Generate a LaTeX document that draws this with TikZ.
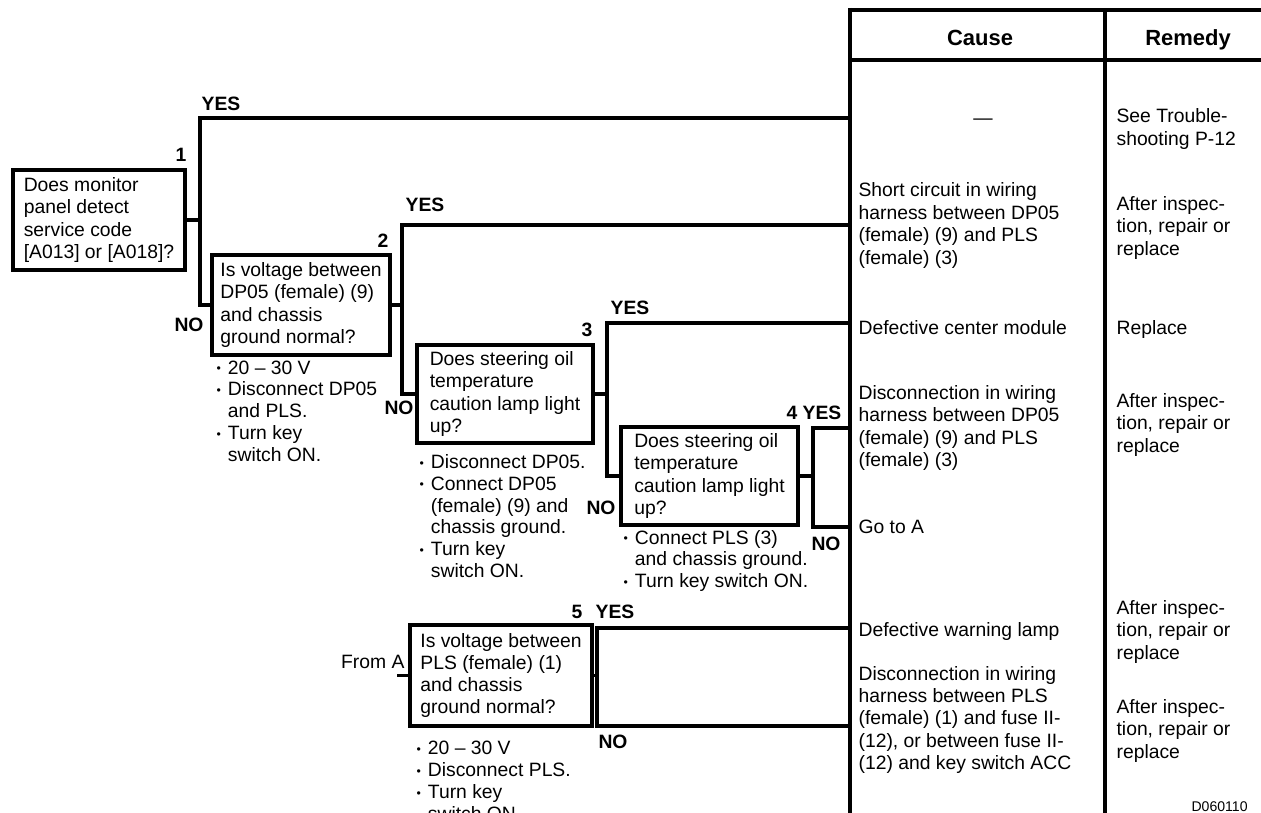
\documentclass[tikz,border=0pt]{standalone}
\usepackage{fontspec}
\setmainfont{Liberation Sans}
\newcommand{\itm}{\raisebox{0.7pt}{\fontsize{7}{7}\selectfont\textbullet}\hspace{4pt}}

\begin{document}
\begin{tikzpicture}[
  x=0.02cm, y=-0.02cm, line width=1.8pt,
  qbox/.style={draw, anchor=north west, align=left, inner sep=2pt, outer sep=0pt,
               font=\fontsize{11}{12.7}\selectfont},
  cell/.style={anchor=west, align=left, inner sep=0pt, font=\fontsize{11}{12.75}\selectfont},
  note/.style={anchor=west, align=left, inner sep=0pt, font=\fontsize{11}{12.4}\selectfont},
  tag/.style={inner sep=0pt, font=\bfseries\fontsize{11}{12}\selectfont},
  head/.style={inner sep=0pt, font=\bfseries\fontsize{12.5}{14}\selectfont},
]
  \useasboundingbox (0,0) rectangle (1261,813);

  % table frame
  \coordinate (tabtop) at (850,8);
  \coordinate (tabbot) at (850,813);
  \coordinate (coltop) at (1105,10);
  \coordinate (colbot) at (1105,813);
  \coordinate (tabne)  at (1261,10);
  \coordinate (headw)  at (850,60);
  \coordinate (heade)  at (1261,60);
  \draw (tabtop) -- (tabbot);
  \draw (tabtop |- tabne) -- (tabne);
  \draw (headw) -- (heade);
  \draw (coltop) -- (colbot);
  \node[head] (cause)  at (980,38)  {Cause};
  \node[head] (remedy) at (1188,40) {Remedy};

  % causes and remedies
  \node[cell, anchor=center] (c1) at (983,122) {—};
  \node[cell] (r1) at (1115,129) {See Trouble-\\shooting P-12};
  \node[cell] (c2) at (857,225.5) {Short circuit in wiring\\harness between DP05\\(female) (9) and PLS\\(female) (3)};
  \node[cell] (r2) at (1115,228) {After inspec-\\tion, repair or\\replace};
  \node[cell] (c3) at (857,328) {Defective center module};
  \node[cell] (r3) at (1115,330) {Replace};
  \node[cell] (c4) at (857,428) {Disconnection in wiring\\harness between DP05\\(female) (9) and PLS\\(female) (3)};
  \node[cell] (r4) at (1115,425) {After inspec-\\tion, repair or\\replace};
  \node[cell] (c5) at (857,527) {Go to A};
  \node[cell] (c6) at (857,632) {Defective warning lamp};
  \node[cell] (r6) at (1115,632) {After inspec-\\tion, repair or\\replace};
  \node[cell] (c7) at (857,720) {Disconnection in wiring\\harness between PLS\\(female) (1) and fuse II-\\(12), or between fuse II-\\(12) and key switch ACC};
  \node[cell] (r7) at (1115,731) {After inspec-\\tion, repair or\\replace};
  \node[cell, font=\fontsize{8}{9}\selectfont] (code) at (1190,807) {D060110};

  % question boxes
  \node[qbox, minimum width=3.44cm, minimum height=2cm] (q1) at (13,170)
    {Does monitor\\panel detect\\service code\\{[A013]} or [A018]?};
  \node[qbox, minimum width=3.56cm, minimum height=2cm] (q2) at (212,255)
    {Is voltage between\\DP05 (female) (9)\\and chassis\\ground normal?};
  \node[qbox, minimum width=3.52cm, minimum height=1.96cm] (q3) at (417,345)
    {Does steering oil\\temperature\\caution lamp light\\up?};
  \node[qbox, minimum width=3.54cm, minimum height=1.96cm] (q4) at (621,427)
    {Does steering oil\\temperature\\caution lamp light\\up?};
  \node[qbox, minimum width=3.64cm, minimum height=2.02cm] (q5) at (410,625)
    {Is voltage between\\PLS (female) (1)\\and chassis\\ground normal?};

  % check notes
  \node[note] (s2) at (215,411) {\itm 20 – 30 V\\\itm Disconnect DP05\\\phantom{\itm}and PLS.\\\itm Turn key\\\phantom{\itm}switch ON.};
  \node[note] (s3) at (418,516) {\itm Disconnect DP05.\\\itm Connect DP05\\\phantom{\itm}(female) (9) and\\\phantom{\itm}chassis ground.\\\itm Turn key\\\phantom{\itm}switch ON.};
  \node[note] (s4) at (622,561) {\itm Connect PLS (3)\\\phantom{\itm}and chassis ground.\\\itm Turn key switch ON.};
  \node[note] (s5) at (415,781) {\itm 20 – 30 V\\\itm Disconnect PLS.\\\itm Turn key\\\phantom{\itm}switch ON.};

  % step numbers and answers
  \node[tag] (n1)  at (181,155) {1};
  \node[tag] (y1)  at (221,104) {YES};
  \node[tag] (no1) at (189,325) {NO};
  \node[tag] (n2)  at (383,241) {2};
  \node[tag] (y2)  at (425,205) {YES};
  \node[tag] (no2) at (399,408) {NO};
  \node[tag] (n3)  at (587,330) {3};
  \node[tag] (y3)  at (630,308) {YES};
  \node[tag] (no3) at (601,508) {NO};
  \node[tag] (n4)  at (792,413) {4};
  \node[tag] (y4)  at (822,413) {YES};
  \node[tag] (no4) at (826,544) {NO};
  \node[tag] (n5)  at (577,612) {5};
  \node[tag] (y5)  at (615,612) {YES};
  \node[tag] (no5) at (613,742) {NO};
  \node[cell, anchor=east] (froma) at (406,662) {From A};

  % ends on the table
  \coordinate (t1) at (850,118);
  \coordinate (t2) at (850,225);
  \coordinate (t3) at (850,323);
  \coordinate (t4) at (850,428);
  \coordinate (t5) at (850,527);
  \coordinate (t6) at (850,628);
  \coordinate (t7) at (850,726);

  \draw (q1.east) -- ++(15,0) coordinate (b1);
  \draw (t1) -| (b1) |- (q2.west);
  \draw (q2.east) -- ++(12,0) coordinate (b2);
  \draw (t2) -| (b2) |- (q3.west);
  \draw (q3.east) -- ++(14,0) coordinate (b3);
  \draw (t3) -| (b3) |- (q4.west);
  \draw (q4.east) -- ++(15,0) coordinate (b4);
  \draw (t4) -| (b4) |- (t5);
  \draw (q5.west) -- ++(-13,0) coordinate (fa);
  \draw (q5.east) -- ++(5,0) coordinate (b5);
  \draw (t6) -| (b5) |- (t7);
\end{tikzpicture}
\end{document}
